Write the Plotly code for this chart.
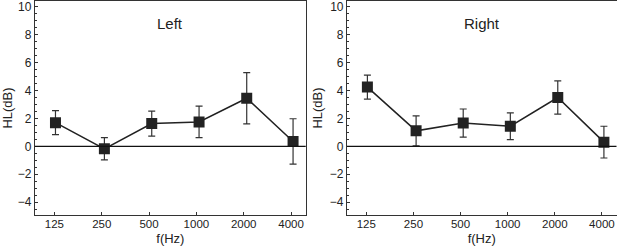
import plotly.graph_objects as go

freq_labels = ["125", "250", "500", "1000", "2000", "4000"]
freq_ticks = [125, 250, 500, 1000, 2000, 4000]
freq_points = [127, 260, 520, 1040, 2090, 4120]

left_mean = [1.70, -0.18, 1.63, 1.75, 3.45, 0.35]
left_err = [0.86, 0.80, 0.90, 1.13, 1.84, 1.63]
right_mean = [4.25, 1.11, 1.67, 1.44, 3.50, 0.30]
right_err = [0.86, 1.07, 1.01, 0.96, 1.19, 1.14]

panels = [("Left", left_mean, left_err), ("Right", right_mean, right_err)]

fig = go.Figure()
dark = "#222222"
font = "Liberation Sans, Arial, sans-serif"

for i, (name, m, e) in enumerate(panels):
    sfx = "" if i == 0 else "2"
    fig.add_trace(go.Scatter(
        x=freq_points, y=m, mode="lines+markers",
        xaxis="x" + sfx, yaxis="y" + sfx,
        line=dict(color=dark, width=1.5),
        marker=dict(symbol="square", size=11, color=dark),
        error_y=dict(type="data", array=e, visible=True, color="#333333",
                     thickness=1.2, width=3.5),
        showlegend=False,
    ))

domains = [[0.0567, 0.4955], [0.5624, 0.9992]]
ydom = [1 - 215 / 248, 1 - 1 / 248]

axis_common = dict(showline=True, linecolor="#333333", linewidth=1.2, mirror=True,
                   showgrid=False, zeroline=False, ticks="inside", ticklen=3,
                   tickcolor="#333333", automargin=False,
                   tickfont=dict(family=font, size=12, color="#222222"))

for i, (name, m, e) in enumerate(panels):
    sfx = "" if i == 0 else "2"
    xa = dict(axis_common, type="log", domain=domains[i], anchor="y" + sfx,
              range=[1.9735, 3.6954], tickvals=freq_ticks, ticktext=freq_labels,
              ticklabelstandoff=-2,
              tickfont=dict(family=font, size=11.5, color="#222222"),
              title=dict(text="f(Hz)", font=dict(family=font, size=13, color="#222"),
                         standoff=4))
    ya = dict(axis_common, domain=ydom, anchor="x" + sfx, range=[-4.93, 10.43],
              tickvals=[-4, -2, 0, 2, 4, 6, 8, 10],
              minor=dict(ticks="inside", ticklen=2, dtick=0.5, tickcolor="#333333"),
              title=dict(text="HL(dB)", font=dict(family=font, size=13, color="#222"),
                         standoff=4))
    fig.update_layout(**{"xaxis" + sfx: xa, "yaxis" + sfx: ya})
    fig.add_shape(type="line", xref="x" + sfx + " domain", yref="y" + sfx,
                  x0=0, x1=1, y0=0, y1=0, line=dict(color="#111111", width=1.2))
    fig.add_annotation(text=name, xref="x" + sfx + " domain", yref="y" + sfx,
                       x=0.5, y=8.8, showarrow=False,
                       font=dict(family=font, size=15, color="#222"))

fig.update_layout(width=617, height=248, margin=dict(l=0, r=0, t=0, b=0),
                  paper_bgcolor="white", plot_bgcolor="white")

fig.write_html("out.html", config={"displayModeBar": False},
               post_script="document.body.style.margin='0';document.body.style.overflow='hidden';")
